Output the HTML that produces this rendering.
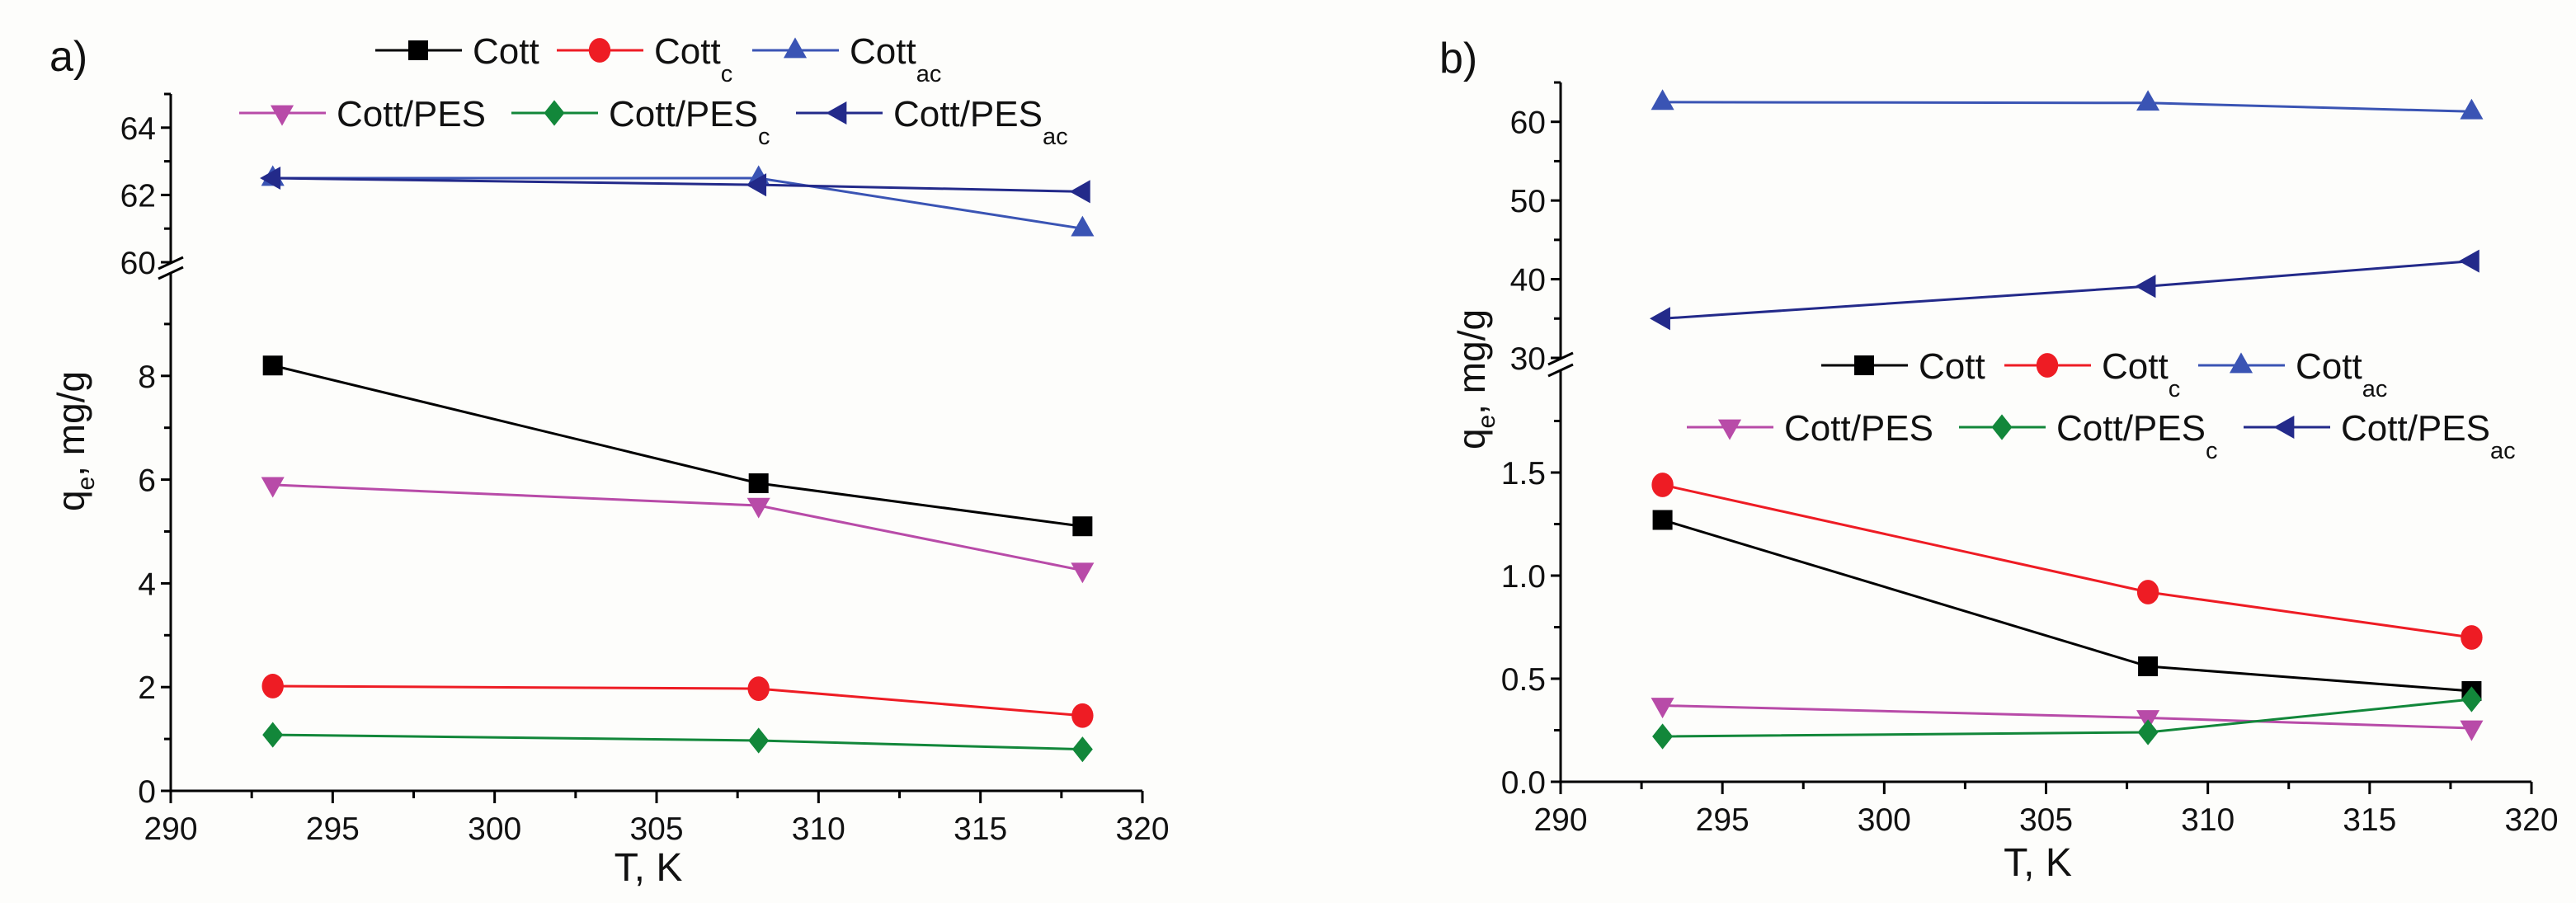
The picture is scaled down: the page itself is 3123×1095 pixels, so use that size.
<!DOCTYPE html>
<html><head><meta charset="utf-8"><style>
html,body{margin:0;padding:0;background:#fdfdfb;}
svg{display:block;font-family:"Liberation Sans",Arial,sans-serif;}
</style></head><body>
<svg id="chart" width="3123" height="1095" viewBox="0 0 3123 1095" xmlns="http://www.w3.org/2000/svg">
<rect width="3123" height="1095" fill="#fdfdfb"/>
</svg>
<script>
const temps = [293.15, 308.15, 318.15];
const seriesNames = ["Cott","Cott_c","Cott_ac","Cott/PES","Cott/PES_c","Cott/PES_ac"];
const aCott = [8.2, 5.93, 5.1];
const aCottC = [2.02, 1.97, 1.45];
const aCottAc = [62.5, 62.5, 61.0];
const aPes = [5.9, 5.5, 4.25];
const aPesC = [1.08, 0.97, 0.8];
const aPesAc = [62.5, 62.3, 62.1];
const bCott = [1.27, 0.56, 0.44];
const bCottC = [1.44, 0.92, 0.70];
const bCottAc = [62.5, 62.4, 61.3];
const bPes = [0.37, 0.31, 0.26];
const bPesC = [0.22, 0.24, 0.40];
const bPesAc = [35.0, 39.1, 42.3];
const xTicks = [290,295,300,305,310,315,320];
const aLowTicks = ["0","2","4","6","8"];
const aUpTicks = ["60","62","64"];
const bLowTicks = ["0.0","0.5","1.0","1.5"];
const bUpTicks = ["30","40","50","60"];

const NS="http://www.w3.org/2000/svg";
const svg=document.getElementById('chart');
function el(tag,attrs,parent){const e=document.createElementNS(NS,tag);for(const k in attrs)e.setAttribute(k,attrs[k]);(parent||svg).appendChild(e);return e;}

const styles=[
 {c:"#000000",m:"square"},{c:"#ee1c24",m:"circle"},{c:"#3a54b4",m:"up"},
 {c:"#b84ba8",m:"down"},{c:"#12873a",m:"diamond"},{c:"#232a8a",m:"left"}];

function marker(g,type,x,y,c,s){
  let e;
  if(type==="square")e=el('rect',{x:x-s*0.5,y:y-s*0.5,width:s,height:s,fill:c},g);
  else if(type==="circle")e=el('ellipse',{cx:x,cy:y,rx:s*0.55,ry:s*0.62,fill:c},g);
  else{
    let p;const r=s*0.65;
    if(type==="up")p=[[x,y-r],[x+r*0.9,y+r*0.6],[x-r*0.9,y+r*0.6]];
    if(type==="down")p=[[x,y+r],[x+r*0.9,y-r*0.6],[x-r*0.9,y-r*0.6]];
    if(type==="left")p=[[x-r,y],[x+r*0.6,y-r*0.9],[x+r*0.6,y+r*0.9]];
    if(type==="diamond")p=[[x,y-r],[x+r*0.8,y],[x,y+r],[x-r*0.8,y]];
    e=el('polygon',{points:p.map(q=>q.join(',')).join(' '),fill:c},g);
  }
  return e;
}

function panel(cfg){
  const g=el('g',{});
  
  
  const X=v=>cfg.x0+(v-290)/(30)*(cfg.x1-cfg.x0);
  const YL=v=>cfg.lo.y0-(v-cfg.lo.min)/(cfg.lo.max-cfg.lo.min)*(cfg.lo.y0-cfg.lo.y1);
  const YU=v=>cfg.up.y0-(v-cfg.up.min)/(cfg.up.max-cfg.up.min)*(cfg.up.y0-cfg.up.y1);
  const Y=v=>v>=cfg.up.min?YU(v):YL(v);
  const ax=el('g',{},g);
  
  
  el('line',{x1:cfg.x0,y1:cfg.lo.y0,x2:cfg.x1,y2:cfg.lo.y0,stroke:"#000","stroke-width":3},ax);
  el('line',{x1:cfg.x0,y1:cfg.lo.y0,x2:cfg.x0,y2:cfg.lo.y1,stroke:"#000","stroke-width":3},ax);
  el('line',{x1:cfg.x0,y1:cfg.up.y0,x2:cfg.x0,y2:cfg.up.y1,stroke:"#000","stroke-width":3},ax);
  [cfg.up.y0,cfg.lo.y1].forEach(yy=>{el('line',{x1:cfg.x0-15,y1:yy+8,x2:cfg.x0+15,y2:yy-6,stroke:"#000","stroke-width":3},ax);});
  xTicks.forEach((t,i)=>{
    const x=X(t);
    el('line',{x1:x,y1:cfg.lo.y0,x2:x,y2:cfg.lo.y0+15,stroke:"#000","stroke-width":3},ax);
    if(i<xTicks.length-1){const xm=X(t+2.5);el('line',{x1:xm,y1:cfg.lo.y0,x2:xm,y2:cfg.lo.y0+9,stroke:"#000","stroke-width":3},ax);}
    const tx=el('text',{x:x,y:cfg.lo.y0+59,"font-size":39,"text-anchor":"middle",fill:"#111"},ax);
    
    
    tx.textContent=t;
  });
  function yticks(labels,Yf,step,minStep,maxv){
    labels.forEach(l=>{
      const v=parseFloat(l),y=Yf(v);
      el('line',{x1:cfg.x0-12,y1:y,x2:cfg.x0,y2:y,stroke:"#000","stroke-width":3},ax);
      const tx=el('text',{x:cfg.x0-18,y:y+14,"font-size":39,"text-anchor":"end",fill:"#111"},ax);
      
      
      tx.textContent=l;
    });
    const v0=parseFloat(labels[0]);
    for(let v=v0+minStep;v<=maxv+1e-9;v+=step){
      const y=Yf(v);el('line',{x1:cfg.x0-8,y1:y,x2:cfg.x0,y2:y,stroke:"#000","stroke-width":3},ax);
    }
  }
  yticks(cfg.lo.labels,YL,cfg.lo.step,cfg.lo.step/2,cfg.lo.max);
  yticks(cfg.up.labels,YU,cfg.up.step,cfg.up.step/2,cfg.up.max);
  cfg.data.forEach((d,si)=>{
    const s=styles[si];
    const sg=el('g',{},g);
    
    
    el('polyline',{points:d.map((v,i)=>X(temps[i])+','+Y(v)).join(' '),fill:"none",stroke:s.c,"stroke-width":3},sg);
    d.forEach((v,i)=>{const m=marker(sg,s.m,X(temps[i]),Y(v),s.c,24);
      
      });
  });
  const lg=el('g',{},g);
  
  
  cfg.legend.forEach((it,si)=>{
    const s=styles[si];
    const eg=el('g',{},lg);
    
    
    el('line',{x1:it[0],y1:it[1],x2:it[0]+105,y2:it[1],stroke:s.c,"stroke-width":3},eg);
    marker(eg,s.m,it[0]+52,it[1],s.c,24);
    const parts=seriesNames[si].split('_');
    const t=el('text',{x:it[0]+118,y:it[1]+16,"font-size":44,fill:"#111"},eg);
    t.textContent=parts[0];
    if(parts[1]){const ts=el('tspan',{dy:22,"font-size":29},t);ts.textContent=parts[1];}
  });
  const xt=el('text',{x:(cfg.x0+cfg.x1)/2-10,y:cfg.xtY,"font-size":48,"text-anchor":"middle",fill:"#111"},g);
  
  
  xt.textContent="T, K";
  const yt=el('text',{x:0,y:0,"font-size":46,"text-anchor":"middle",fill:"#111",transform:`translate(${cfg.ytX},${cfg.ytY}) rotate(-90)`},g);
  
  
  yt.textContent="q";
  const sub=el('tspan',{dy:12,"font-size":30},yt);sub.textContent="e";
  const rest=el('tspan',{dy:-12},yt);rest.textContent=", mg/g";
  const pl=el('text',{x:cfg.lbl[0],y:cfg.lbl[1],"font-size":52,fill:"#111"},g);
  
  
  pl.textContent=cfg.lblText;
}

panel({name:'panel-a',x0:207,x1:1385,
  lo:{min:0,max:10,y0:959,y1:330,labels:aLowTicks,step:2},
  up:{min:60,max:65,y0:318,y1:114,labels:aUpTicks,step:2},
  data:[aCott,aCottC,aCottAc,aPes,aPesC,aPesAc],
  legend:[[455,61],[675,61],[912,61],[290,137],[620,137],[965,137]],
  xtY:1068,ytX:102,ytY:535,lbl:[60,86],lblText:"a)"});
panel({name:'panel-b',x0:1892,x1:3069,
  lo:{min:0,max:2,y0:948,y1:448,labels:bLowTicks,step:0.5},
  up:{min:30,max:65,y0:434,y1:100,labels:bUpTicks,step:10},
  data:[bCott,bCottC,bCottAc,bPes,bPesC,bPesAc],
  legend:[[2208,443],[2430,443],[2665,443],[2045,518],[2375,518],[2720,518]],
  xtY:1062,ytX:1800,ytY:460,lbl:[1745,88],lblText:"b)"});
</script>
</body></html>
